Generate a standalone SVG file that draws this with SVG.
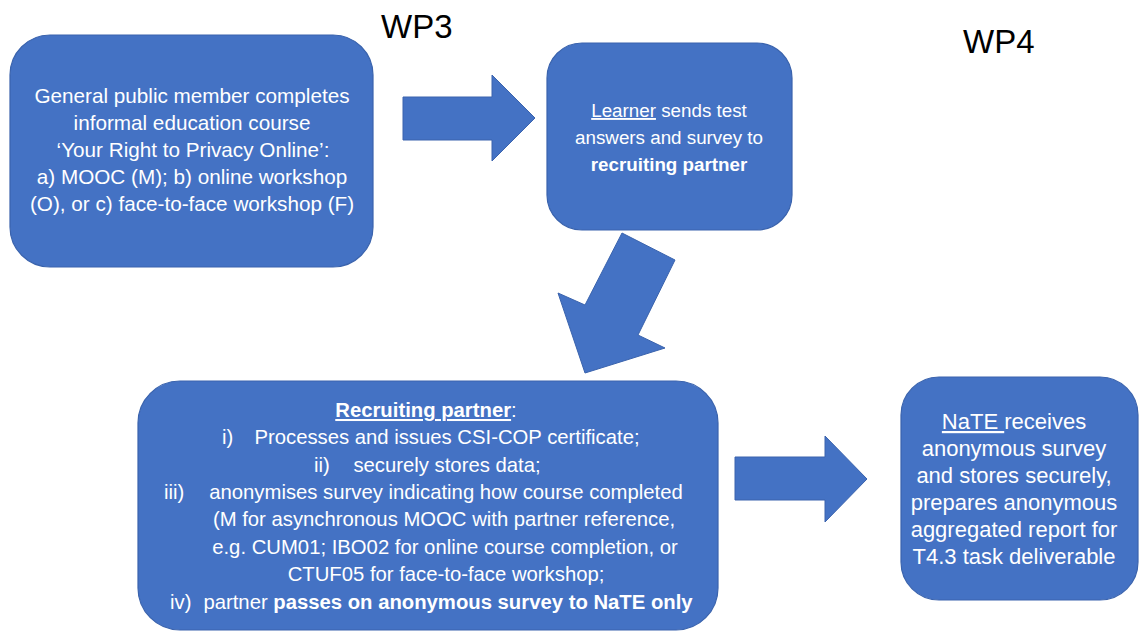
<svg xmlns="http://www.w3.org/2000/svg" width="1140" height="632" viewBox="0 0 1140 632">
<style>
.box{fill:#4472C4;stroke:#3A63AD;stroke-width:1.2}
.arr{fill:#4472C4;stroke:#3A63AD;stroke-width:1}
.t{font-family:"Liberation Sans",Arial,sans-serif;fill:#FFFFFF;text-anchor:middle}
.wp{font-family:"Liberation Sans",Arial,sans-serif;fill:#000000;font-size:33px}
.b{font-weight:bold}
.u{text-decoration:underline}
.s{text-anchor:start}
</style>
<rect width="1140" height="632" fill="#FFFFFF"/>
<text class="wp" x="381" y="38">WP3</text>
<text class="wp" x="963" y="53">WP4</text>
<g id="connectors">
<polygon class="arr" points="403,97 492,97 492,75 535,118 492,161 492,140 403,140"/>
<polygon class="arr" points="622,233 675,260 638,335 665,348 585,373 558,293 585,305"/>
<polygon class="arr" points="735,457 825,457 825,436 867,479 825,522 825,500 735,500"/>
</g>
<g id="node-course">
<rect class="box" x="10" y="35" width="363" height="232" rx="40"/>
<g class="t" style="font-size:20.7px">
<text x="192" y="103">General public member completes</text>
<text x="192" y="130">informal education course</text>
<text x="193" y="157"> ‘Your Right to Privacy Online’:</text>
<text x="192" y="184">a) MOOC (M); b) online workshop</text>
<text x="192" y="211">(O), or c) face-to-face workshop (F)</text>
</g>
</g>
<g id="node-learner">
<rect class="box" x="547" y="43" width="245" height="187" rx="35"/>
<g class="t" style="font-size:18.8px">
<text x="669" y="117"><tspan class="u">Learner</tspan> sends test</text>
<text x="669" y="144">answers and survey to</text>
<text x="669" y="171" class="b">recruiting partner</text>
</g>
</g>
<g id="node-partner">
<rect class="box" x="138" y="381" width="580" height="249" rx="42"/>
<g class="t" style="font-size:20.3px">
<text x="426" y="417"><tspan class="b u">Recruiting partner</tspan>:</text>
<text x="222" y="444" class="s">i)</text>
<text x="447" y="444">Processes and issues CSI-COP certificate;</text>
<text x="314" y="472" class="s">ii)</text>
<text x="447" y="472">securely stores data;</text>
<text x="164" y="499" class="s">iii)</text>
<text x="446" y="499">anonymises survey indicating how course completed</text>
<text x="444" y="526">(M for asynchronous MOOC with partner reference,</text>
<text x="445" y="554">e.g. CUM01; IBO02 for online course completion, or</text>
<text x="446" y="581">CTUF05 for face-to-face workshop;</text>
<text x="170" y="609" class="s">iv)</text>
<text x="448" y="609">partner <tspan class="b">passes on anonymous survey to NaTE only</tspan></text>
</g>
</g>
<g id="node-nate">
<rect class="box" x="901" y="377" width="237" height="223" rx="38"/>
<g class="t" style="font-size:22px">
<text x="1014" y="429"><tspan class="u">NaTE </tspan>receives</text>
<text x="1014" y="456">anonymous survey</text>
<text x="1014" y="483">and stores securely,</text>
<text x="1014" y="510">prepares anonymous</text>
<text x="1014" y="537">aggregated report for</text>
<text x="1014" y="564">T4.3 task deliverable</text>
</g>
</g>
</svg>
